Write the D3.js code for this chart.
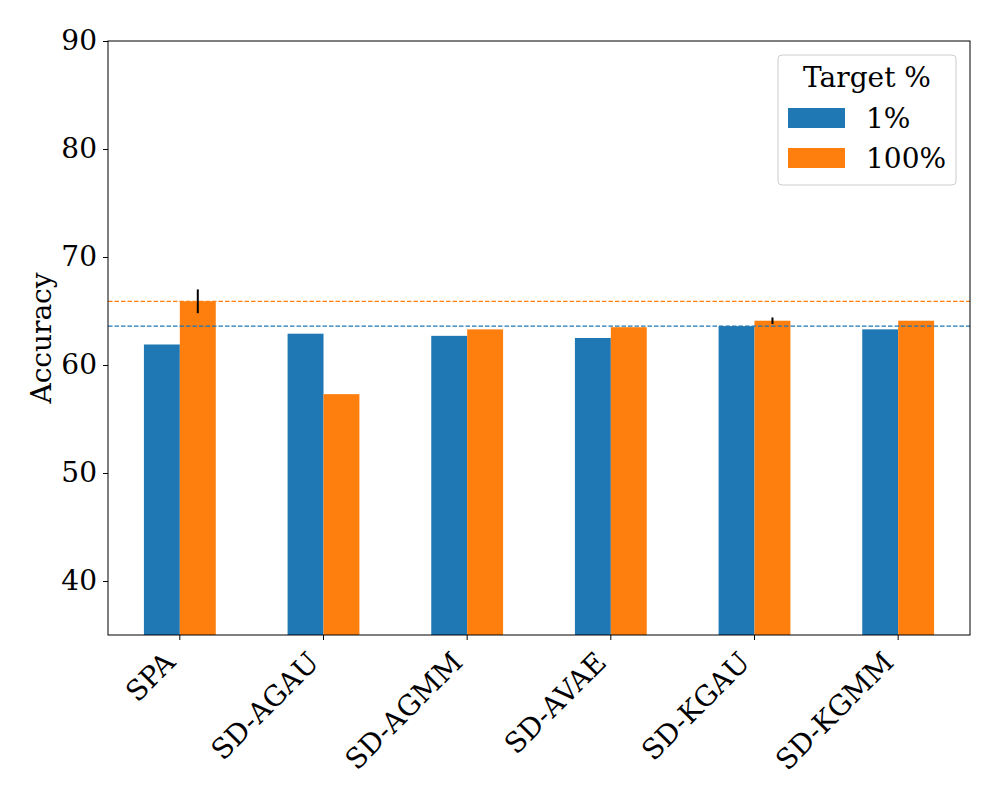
<!DOCTYPE html>
<html>
<head>
<meta charset="utf-8">
<script src="https://cdn.jsdelivr.net/npm/d3@7"></script>
<style>
  body { margin: 0; background: #fff; }
  svg { display: block; font-family: "DejaVu Serif", serif; }
</style>
</head>
<body>
<div id="chart"></div>
<script>
const categories = ["SPA", "SD-AGAU", "SD-AGMM", "SD-AVAE", "SD-KGAU", "SD-KGMM"];
const seriesNames = ["1%", "100%"];
const values1 = [61.9, 62.9, 62.7, 62.5, 63.6, 63.3];
const values100 = [65.9, 57.3, 63.3, 63.5, 64.1, 64.1];
const err1 = [0, 0, 0, 0, 0, 0];
const err100 = [1.1, 0, 0, 0, 0.3, 0];
const refLines = [63.6, 65.9];
const yTicks = [40, 50, 60, 70, 80, 90];

const COLORS = ["#1f77b4", "#ff7f0e"];
const FONT = 28;
const width = 1000;
const height = 800;
const margin = { top: 41, right: 30, bottom: 165, left: 108 };

const svg = d3.select("#chart").append("svg")
  .attr("width", width)
  .attr("height", height);

const x = d3.scaleBand()
  .domain(categories)
  .range([margin.left, width - margin.right])
  .paddingInner(0)
  .paddingOuter(0);

const y = d3.scaleLinear()
  .domain([35, 90])
  .range([height - margin.bottom, margin.top]);

const barW = x.bandwidth() * 0.25;
const series = [
  { name: seriesNames[0], values: values1, err: err1, color: COLORS[0], offset: -1 },
  { name: seriesNames[1], values: values100, err: err100, color: COLORS[1], offset: 0 },
];

const center = (c) => x(c) + x.bandwidth() / 2;

series.forEach((s) => {
  svg.append("g").selectAll("rect")
    .data(categories)
    .join("rect")
    .attr("x", (c) => center(c) + s.offset * barW)
    .attr("width", barW)
    .attr("y", (c, i) => y(s.values[i]))
    .attr("height", (c, i) => y(35) - y(s.values[i]))
    .attr("fill", s.color);
});

// error bars
series.forEach((s) => {
  svg.append("g").selectAll("line")
    .data(categories.filter((c, i) => s.err[i] > 0))
    .join("line")
    .attr("x1", (c) => center(c) + s.offset * barW + barW / 2)
    .attr("x2", (c) => center(c) + s.offset * barW + barW / 2)
    .attr("y1", (c) => { const i = categories.indexOf(c); return y(s.values[i] - s.err[i]); })
    .attr("y2", (c) => { const i = categories.indexOf(c); return y(s.values[i] + s.err[i]); })
    .attr("stroke", "#000")
    .attr("stroke-width", 2);
});

// reference lines
svg.append("g").selectAll("line")
  .data(refLines)
  .join("line")
  .attr("x1", margin.left)
  .attr("x2", width - margin.right)
  .attr("y1", (d) => y(d))
  .attr("y2", (d) => y(d))
  .attr("stroke", (d, i) => COLORS[i])
  .attr("stroke-width", 1.2)
  .attr("stroke-dasharray", "4.5,2");

// axes
const yAxis = svg.append("g")
  .attr("transform", `translate(${margin.left},0)`)
  .call(d3.axisLeft(y).tickValues(yTicks).tickSize(5).tickPadding(6));
yAxis.select(".domain").remove();
yAxis.selectAll("text").attr("font-size", FONT).attr("fill", "#000")
  .attr("font-family", "DejaVu Serif, serif");

const xAxis = svg.append("g")
  .attr("transform", `translate(0,${height - margin.bottom})`)
  .call(d3.axisBottom(x).tickSize(5).tickPadding(6));
xAxis.select(".domain").remove();
xAxis.selectAll("text")
  .attr("font-size", FONT)
  .attr("fill", "#000")
  .attr("font-family", "DejaVu Serif, serif")
  .attr("text-anchor", "end")
  .attr("dy", null)
  .attr("y", 0)
  .attr("transform", "translate(-3,29) rotate(-45)");

svg.append("rect")
  .attr("x", margin.left)
  .attr("y", margin.top)
  .attr("width", width - margin.right - margin.left)
  .attr("height", height - margin.bottom - margin.top)
  .attr("fill", "none")
  .attr("stroke", "#000")
  .attr("stroke-width", 1);

svg.append("text")
  .attr("transform", `translate(51,${(margin.top + height - margin.bottom) / 2}) rotate(-90)`)
  .attr("text-anchor", "middle")
  .attr("font-size", FONT)
  .text("Accuracy");

// legend
const legend = svg.append("g").attr("transform", "translate(778,55)");
legend.append("rect")
  .attr("width", 178).attr("height", 130).attr("rx", 4)
  .attr("fill", "#fff").attr("fill-opacity", 0.8)
  .attr("stroke", "#ccc");
legend.append("text")
  .attr("x", 89).attr("y", 32)
  .attr("text-anchor", "middle")
  .attr("font-size", FONT)
  .text("Target %");
series.forEach((s, i) => {
  legend.append("rect")
    .attr("x", 10).attr("y", 53 + i * 40)
    .attr("width", 57).attr("height", 20)
    .attr("fill", s.color);
  legend.append("text")
    .attr("x", 88).attr("y", 73 + i * 40)
    .attr("font-size", FONT)
    .text(s.name);
});
</script>
</body>
</html>
